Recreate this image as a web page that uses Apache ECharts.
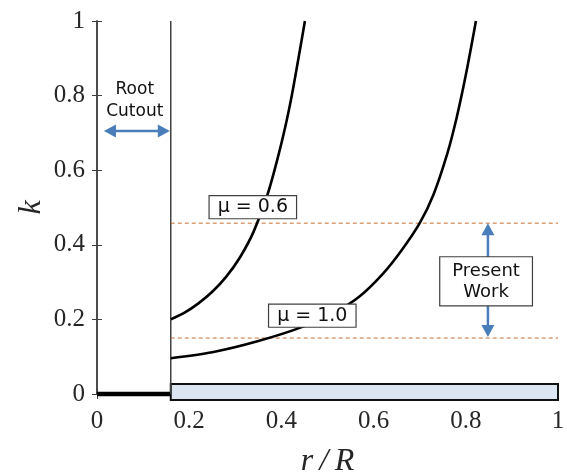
<!DOCTYPE html>
<html>
<head>
<meta charset="utf-8">
<script src="https://cdn.jsdelivr.net/npm/echarts@6/dist/echarts.min.js"></script>
<style>html,body{margin:0;padding:0;background:#fff;}#c{width:567px;height:475px;}</style>
</head>
<body>
<div id="c"></div>
<script>
// ---- data ----
const xTickLabels = ['0', '0.2', '0.4', '0.6', '0.8', '1'];
const yTickLabels = ['0', '0.2', '0.4', '0.6', '0.8', '1'];
const mu06X = [0.16, 0.19, 0.22, 0.25, 0.28, 0.31, 0.34, 0.37, 0.40, 0.42, 0.44, 0.451];
const mu06Y = [0.200, 0.218, 0.243, 0.274, 0.314, 0.366, 0.436, 0.535, 0.672, 0.784, 0.921, 1.0];
const mu10X = [0.16, 0.25, 0.35, 0.45, 0.52, 0.57, 0.62, 0.66, 0.70, 0.73, 0.76, 0.78, 0.80, 0.822];
const mu10Y = [0.096, 0.112, 0.142, 0.182, 0.222, 0.262, 0.322, 0.384, 0.458, 0.535, 0.645, 0.740, 0.855, 1.0];
const rootCutoutR = 0.16;
const presentWorkUpper = 0.458;
const presentWorkLower = 0.15;
const hubBarY = [-0.016, 0.027];
const rootArrow = { x: [0.015, 0.158], y: 0.705 };
const workArrow = { x: 0.848, y: [0.153, 0.458] };
const labels = [
  { text: 'μ = 0.6', x: 0.338, y: 0.501 },
  { text: 'μ = 1.0', x: 0.467, y: 0.210 }
];
const rootText = { text: 'Root\nCutout', x: 0.082, y: 0.787 };
const workText = { text: 'Present\nWork', x: 0.844, y: 0.302 };

const pair = (xs, ys) => xs.map((x, i) => [x, ys[i]]);

const chart = echarts.init(document.getElementById('c'), null, { renderer: 'canvas' });

const axisColor = '#404040';
const tickFont = { fontFamily: 'Liberation Serif', fontSize: 25, color: '#262626' };
const blue = '#4a7ebb';
const dashColor = '#c46e35';

function arrowHead(tip, dir, len, half) {
  const bx = tip[0] - dir[0] * len, by = tip[1] - dir[1] * len;
  const px = -dir[1], py = dir[0];
  return [tip, [bx + px * half, by + py * half], [bx - px * half, by - py * half]];
}

const option = {
  animation: false,
  grid: { left: 97, right: 9, top: 21, bottom: 81, containLabel: false, outerBoundsMode: 'none' },
  xAxis: [
    {
      type: 'value', min: 0, max: 1, interval: 0.2, position: 'bottom',
      axisLine: { show: true, lineStyle: { color: axisColor, width: 1.5 } },
      axisTick: { show: true, inside: true, length: 5, lineStyle: { color: axisColor } },
      splitLine: { show: false },
      axisLabel: Object.assign({ margin: 15, formatter: (v) => xTickLabels[Math.round(v / 0.2)] }, tickFont),
      name: 'r\u2009/\u2009R', nameLocation: 'middle', nameGap: 52, nameMoveOverlap: false,
      nameTextStyle: { fontFamily: 'Liberation Serif', fontStyle: 'italic', fontSize: 32, color: '#262626' }
    },
    {
      type: 'value', min: 0, max: 1, interval: 0.2, position: 'top',
      axisLine: { show: true, lineStyle: { color: axisColor, width: 1.5 } },
      axisTick: { show: true, inside: true, length: 5, lineStyle: { color: axisColor } },
      splitLine: { show: false }, axisLabel: { show: false }
    }
  ],
  yAxis: [
    {
      type: 'value', min: 0, max: 1, interval: 0.2, position: 'left',
      axisLine: { show: true, lineStyle: { color: axisColor, width: 1.5 } },
      axisTick: { show: true, inside: true, length: 5, lineStyle: { color: axisColor } },
      splitLine: { show: false },
      axisLabel: Object.assign({ margin: 12, formatter: (v) => yTickLabels[Math.round(v / 0.2)] }, tickFont),
      name: 'k', nameLocation: 'middle', nameGap: 49, nameRotate: 90, nameMoveOverlap: false,
      nameTextStyle: { fontFamily: 'Liberation Serif', fontStyle: 'italic', fontSize: 32, color: '#262626' }
    },
    {
      type: 'value', min: 0, max: 1, interval: 0.2, position: 'right',
      axisLine: { show: true, lineStyle: { color: axisColor, width: 1.5 } },
      axisTick: { show: true, inside: true, length: 5, lineStyle: { color: axisColor } },
      splitLine: { show: false }, axisLabel: { show: false }
    }
  ],
  series: [
    {
      type: 'custom', name: 'hubBar', clip: false, z: 2,
      data: [[rootCutoutR, hubBarY[1], 1, hubBarY[0]]],
      renderItem: (params, api) => {
        const p1 = api.coord([api.value(0), api.value(1)]);
        const p2 = api.coord([api.value(2), api.value(3)]);
        return {
          type: 'rect',
          shape: { x: p1[0], y: p1[1], width: p2[0] - p1[0], height: p2[1] - p1[1] },
          style: { fill: '#dce6f2', stroke: '#111', lineWidth: 2 }
        };
      }
    },
    {
      type: 'line', name: 'rootBase', clip: false, z: 3, symbol: 'none',
      data: [[0, 0], [rootCutoutR, 0]],
      lineStyle: { color: '#000', width: 4.5 }
    },
    {
      type: 'line', name: 'rootLine', z: 3, symbol: 'none',
      data: [[rootCutoutR, 0], [rootCutoutR, 1]],
      lineStyle: { color: axisColor, width: 1.5 }
    },
    {
      type: 'line', name: 'upper', z: 3, symbol: 'none',
      data: [[rootCutoutR, presentWorkUpper], [1, presentWorkUpper]],
      lineStyle: { color: dashColor, width: 1, type: [4, 3] }
    },
    {
      type: 'line', name: 'lower', z: 3, symbol: 'none',
      data: [[rootCutoutR, presentWorkLower], [1, presentWorkLower]],
      lineStyle: { color: dashColor, width: 1, type: [4, 3] }
    },
    {
      type: 'line', name: 'mu06', z: 4, symbol: 'none', smooth: 0.3,
      data: pair(mu06X, mu06Y),
      lineStyle: { color: '#000', width: 2.6 }
    },
    {
      type: 'line', name: 'mu10', z: 4, symbol: 'none', smooth: 0.3,
      data: pair(mu10X, mu10Y),
      lineStyle: { color: '#000', width: 2.6 }
    },
    {
      type: 'custom', name: 'arrows', clip: false, z: 5,
      data: [[0]],
      renderItem: (params, api) => {
        const a1 = api.coord([rootArrow.x[0], rootArrow.y]);
        const a2 = api.coord([rootArrow.x[1], rootArrow.y]);
        const b1 = api.coord([workArrow.x, workArrow.y[0]]);
        const b2 = api.coord([workArrow.x, workArrow.y[1]]);
        const L = 12, H = 6.5;
        const st = { fill: blue };
        return {
          type: 'group',
          children: [
            { type: 'line', shape: { x1: a1[0] + L - 1, y1: a1[1], x2: a2[0] - L + 1, y2: a2[1] }, style: { stroke: blue, lineWidth: 2.5 } },
            { type: 'polygon', shape: { points: arrowHead(a1, [-1, 0], L, H) }, style: st },
            { type: 'polygon', shape: { points: arrowHead(a2, [1, 0], L, H) }, style: st },
            { type: 'line', shape: { x1: b1[0], y1: b1[1] - L + 1, x2: b2[0], y2: b2[1] + L - 1 }, style: { stroke: blue, lineWidth: 2.5 } },
            { type: 'polygon', shape: { points: arrowHead(b1, [0, 1], L, H) }, style: st },
            { type: 'polygon', shape: { points: arrowHead(b2, [0, -1], L, H) }, style: st }
          ]
        };
      }
    },
    {
      type: 'custom', name: 'labels', clip: false, z: 6,
      data: [[0]],
      renderItem: (params, api) => {
        const children = [];
        labels.forEach((l) => {
          const p = api.coord([l.x, l.y]);
          children.push({
            type: 'text',
            style: {
              text: l.text, x: p[0], y: p[1], align: 'center', verticalAlign: 'middle',
              fontFamily: 'DejaVu Sans', fontSize: 19, fill: '#111',
              backgroundColor: '#fff', borderColor: axisColor, borderWidth: 1.2,
              padding: [2, 8, 1, 8]
            }
          });
        });
        const r = api.coord([rootText.x, rootText.y]);
        children.push({
          type: 'text',
          style: {
            text: rootText.text, x: r[0], y: r[1], align: 'center', verticalAlign: 'middle',
            fontFamily: 'DejaVu Sans', fontSize: 17, lineHeight: 22, fill: '#111'
          }
        });
        const w = api.coord([workText.x, workText.y]);
        children.push({
          type: 'text',
          style: {
            text: workText.text, x: w[0], y: w[1], align: 'center', verticalAlign: 'middle',
            fontFamily: 'DejaVu Sans', fontSize: 18, lineHeight: 21, fill: '#111',
            backgroundColor: '#fff', borderColor: axisColor, borderWidth: 1.2,
            padding: [3, 12, 3, 12]
          }
        });
        return { type: 'group', children };
      }
    }
  ]
};
chart.setOption(option);
</script>
</body>
</html>
